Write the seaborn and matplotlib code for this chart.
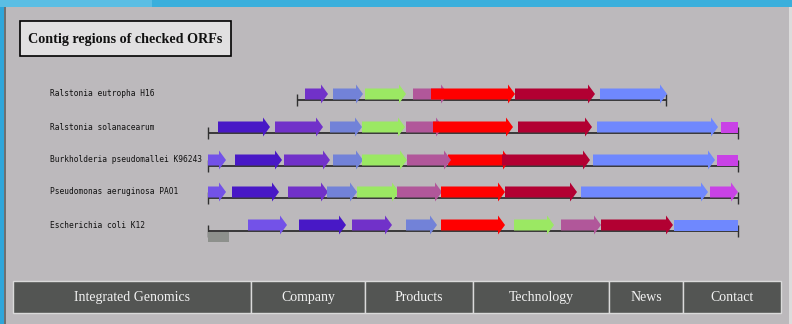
import matplotlib
matplotlib.use("Agg")
import matplotlib.pyplot as plt
from matplotlib.patches import Polygon, Rectangle
import seaborn as sns

# organisms (one row each)
organisms = ["Ralstonia eutropha H16", "Ralstonia solanacearum",
             "Burkholderia pseudomallei K96243", "Pseudomonas aeruginosa PAO1",
             "Escherichia coli K12"]
contig_start = [297, 208, 208, 208, 208]
contig_end = [666, 738, 738, 738, 738]

# ORF coordinates per organism (start, end, ortholog group)
eutropha_start = [305, 333, 365, 413, 431, 515, 600]
eutropha_end = [328, 363, 406, 448, 515, 595, 667]
eutropha_group = ["B", "D", "E", "F", "G", "H", "I"]

solan_start = [218, 275, 330, 362, 406, 433, 518, 597, 721]
solan_end = [270, 323, 362, 405, 443, 513, 592, 718, 738]
solan_group = ["C", "B", "D", "E", "F", "G", "H", "I", "J"]

burk_start = [208, 235, 284, 333, 362, 448, 407, 502, 593, 717]
burk_end = [226, 282, 330, 363, 407, 510, 451, 590, 715, 738]
burk_group = ["A", "C", "B", "D", "E", "G", "F", "H", "I", "J"]

pseudo_start = [208, 232, 288, 327, 357, 397, 441, 505, 581, 710]
pseudo_end = [226, 279, 328, 357, 399, 442, 505, 577, 708, 738]
pseudo_group = ["A", "C", "B", "D", "E", "F", "G", "H", "I", "J"]

ecoli_start = [248, 299, 352, 406, 441, 514, 561, 601, 674]
ecoli_end = [287, 346, 392, 437, 505, 554, 601, 673, 738]
ecoli_group = ["A", "C", "B", "D", "G", "E", "F", "H", "I"]

# ORFs cut off by the contig end (drawn without arrow head)
partial = {(1, 721), (2, 717), (4, 674)}
# E. coli extra feature below the line
ecoli_extra_start, ecoli_extra_end = 208, 229

group_colors = {"A": "#7352e8", "B": "#7131c9", "C": "#4818c6", "D": "#7282d8",
                "E": "#9be863", "F": "#b1579a", "G": "#ff0000", "H": "#b20032",
                "I": "#6f88fe", "J": "#c942e6", "K": "#8d908c"}

nav_labels = ["Integrated Genomics", "Company", "Products", "Technology", "News", "Contact"]
nav_edges = [13, 251, 365, 473, 609, 683, 781]

rows = [(eutropha_start, eutropha_end, eutropha_group),
        (solan_start, solan_end, solan_group),
        (burk_start, burk_end, burk_group),
        (pseudo_start, pseudo_end, pseudo_group),
        (ecoli_start, ecoli_end, ecoli_group)]
row_y = [100, 133, 166, 198, 231]

sns.set_theme(style="white")
bg = "#bcb9bc"
fig = plt.figure(figsize=(7.92, 3.24), dpi=100, facecolor=bg)
ax = fig.add_axes([0, 0, 1, 1])
ax.set_xlim(0, 792)
ax.set_ylim(324, 0)
ax.axis("off")
ax.set_facecolor(bg)

# page frame
ax.add_patch(Rectangle((0, 0), 792, 7, color="#3aafdc", lw=0))
ax.add_patch(Rectangle((0, 0), 152, 7, color="#5bbee4", lw=0))
ax.add_patch(Rectangle((0, 7), 3.5, 317, color="#2fa6da", lw=0))
ax.add_patch(Rectangle((3.5, 7), 2.5, 317, color="#707070", lw=0))
ax.add_patch(Rectangle((789, 7), 3, 317, color="#dcdcdc", lw=0))

# title box
ax.add_patch(Rectangle((20, 21), 211, 35, facecolor="#e1e0e1", edgecolor="black", lw=1.2))
ax.text(125.5, 39, "Contig regions of checked ORFs", family="Liberation Serif",
        weight="bold", fontsize=10.2, ha="center", va="center", color="#111111")


def gene(x0, x1, y, color, head=True):
    top, bot, mid = y - 11.5, y - 0.5, y - 6
    if not head:
        pts = [(x0, top), (x1, top), (x1, bot), (x0, bot)]
    else:
        hl = min(7, (x1 - x0) * 0.45)
        pts = [(x0, top), (x1 - hl, top), (x1 - hl, mid - 9.5), (x1, mid),
               (x1 - hl, mid + 9.5), (x1 - hl, bot), (x0, bot)]
    ax.add_patch(Polygon(pts, closed=True, facecolor=color, edgecolor="none", zorder=3))


for i, (starts, ends, groups) in enumerate(rows):
    y = row_y[i]
    ax.text(50, y - 6, organisms[i], family="DejaVu Sans Mono", fontsize=5.7,
            ha="left", va="center", color="#111111")
    ax.hlines(y, contig_start[i], contig_end[i], color="#151515", lw=1.1, zorder=2)
    ax.vlines([contig_start[i], contig_end[i]], y - 6, y + 6, color="#303030", lw=1, zorder=2)
    for s, e, g in zip(starts, ends, groups):
        gene(s, e, y, group_colors[g], head=(i, s) not in partial)

ax.add_patch(Rectangle((ecoli_extra_start, row_y[4] + 0.5), ecoli_extra_end - ecoli_extra_start,
                       10.5, facecolor=group_colors["K"], lw=0, zorder=3))

# navigation bar
for j, lab in enumerate(nav_labels):
    x0, x1 = nav_edges[j], nav_edges[j + 1]
    ax.add_patch(Rectangle((x0, 281), x1 - x0, 32, facecolor="#535553",
                           edgecolor="#dadada", lw=1))
    ax.text((x0 + x1) / 2, 297.5, lab, family="Liberation Serif", fontsize=10,
            ha="center", va="center", color="#f2f2f2")

fig.savefig("out.png", dpi=100, facecolor=bg)
